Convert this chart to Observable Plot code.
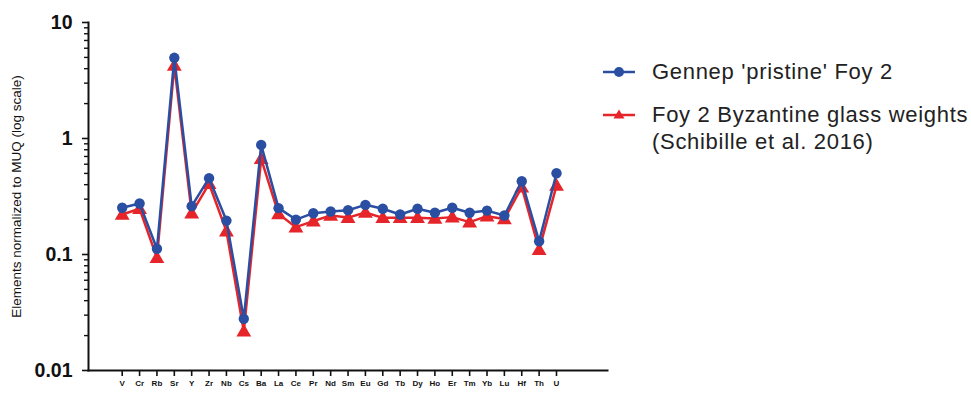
<!DOCTYPE html>
<html>
<head>
<meta charset="utf-8">
<script src="https://cdn.jsdelivr.net/npm/d3@7"></script>
<script src="https://cdn.jsdelivr.net/npm/@observablehq/plot@0.6"></script>
<style>
  body { margin: 0; background: #fff; font-family: "Liberation Sans", Arial, sans-serif; }
  #wrap { position: relative; width: 971px; height: 394px; }
  #legend { position: absolute; left: 603px; top: 58px; color: #222; font-size: 22px; letter-spacing: 0.7px; line-height: 27px; }
  .item { display: flex; align-items: flex-start; margin-bottom: 15px; }
  .item svg { flex: none; margin-top: 0px; margin-right: 17px; }
</style>
</head>
<body>
<div id="wrap"></div>
<script>
// Trace elements, in plotting order
const elements = ["V","Cr","Rb","Sr","Y","Zr","Nb","Cs","Ba","La","Ce","Pr","Nd","Sm",
                  "Eu","Gd","Tb","Dy","Ho","Er","Tm","Yb","Lu","Hf","Th","U"];

// Gennep 'pristine' Foy 2, normalized to MUQ
const gennep = [0.253,0.275,0.112,4.96,0.261,0.455,0.196,0.0279,0.881,0.251,0.200,0.227,0.235,0.241,
                0.268,0.248,0.221,0.248,0.229,0.253,0.229,0.239,0.217,0.428,0.130,0.502];

// Foy 2 Byzantine glass weights (Schibille et al. 2016), normalized to MUQ
const byzantine = [0.221,0.248,0.0936,4.26,0.227,0.407,0.159,0.0218,0.668,0.224,0.172,0.194,0.217,0.208,
                   0.230,0.207,0.207,0.207,0.204,0.210,0.190,0.214,0.202,0.380,0.110,0.393];

const yMajor = [0.01, 0.1, 1, 10];
const yMinor = d3.range(-2, 1).flatMap(e => d3.range(2, 10).map(m => m * 10 ** e));

const blue = "#2a4ea1";
const red = "#e5252a";

const rows = series => elements.map((el, i) => ({el, v: series[i]}));
const gRows = rows(gennep);
const bRows = rows(byzantine);

const chart = Plot.plot({
  width: 971,
  height: 394,
  marginLeft: 88,
  marginRight: 364,
  marginTop: 22,
  marginBottom: 24,
  style: {fontFamily: "Liberation Sans, Arial, sans-serif", color: "#111", background: "#fff"},
  x: {type: "point", domain: elements, range: [121.7, 556], padding: 0, round: false},
  y: {type: "log", domain: [0.01, 10]},
  marks: [
    Plot.frame({anchor: "bottom", stroke: "#111", strokeWidth: 2}),
    Plot.frame({anchor: "left", stroke: "#111", strokeWidth: 2}),
    Plot.axisX({tickSize: 6, tickPadding: 4, fontSize: 8, fontWeight: "bold", stroke: "#111", strokeWidth: 1.6, label: null}),
    Plot.axisY({ticks: yMajor, tickSize: 6, tickPadding: 10, fontSize: 19.5, fontWeight: "bold",
                stroke: "#111", strokeWidth: 1.6, tickFormat: d => String(d), label: null}),
    Plot.axisY({ticks: yMinor, tickSize: 4, stroke: "#111", strokeWidth: 1.4, tickFormat: () => "", label: null}),
    Plot.text(["Elements normalized to MUQ (log scale)"], {
      frameAnchor: "left", dx: -72, rotate: -90, textAnchor: "middle", fontSize: 13.5, fill: "#111"
    }),
    Plot.line(bRows, {x: "el", y: "v", stroke: red, strokeWidth: 2.5}),
    Plot.dot(bRows, {x: "el", y: "v", symbol: "triangle", r: 5.5, fill: red, dy: 1}),
    Plot.line(gRows, {x: "el", y: "v", stroke: blue, strokeWidth: 2.5}),
    Plot.dot(gRows, {x: "el", y: "v", r: 5.2, fill: blue})
  ]
});

const wrap = document.getElementById("wrap");
wrap.appendChild(chart);

// Legend
const legend = document.createElement("div");
legend.id = "legend";
const key = (color, shape) => {
  const marker = shape === "circle"
    ? `<circle cx="16" cy="14" r="5" fill="${color}"/>`
    : `<path d="M16,8.5 L21.5,17.5 L10.5,17.5 Z" fill="${color}"/>`;
  return `<svg width="32" height="28"><line x1="0" x2="32" y1="14" y2="14" stroke="${color}" stroke-width="2.5"/>${marker}</svg>`;
};
legend.innerHTML =
  `<div class="item">${key(blue, "circle")}<div>Gennep 'pristine' Foy 2</div></div>` +
  `<div class="item">${key(red, "triangle")}<div>Foy 2 Byzantine glass weights<br>(Schibille et al. 2016)</div></div>`;
wrap.appendChild(legend);
</script>
</body>
</html>
